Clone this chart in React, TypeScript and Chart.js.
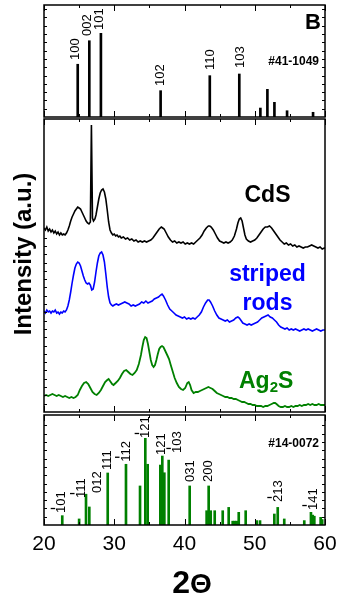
import React, { useEffect, useRef } from "react";
import { Chart, registerables } from "chart.js";

Chart.register(...registerables);

const FONT = "'Liberation Sans', Arial, Helvetica, sans-serif";
const X_MIN = 20;
const X_MAX = 60;
const xTickValues = [20, 30, 40, 50, 60];

// ---- Reference pattern #41-1049 (CdS) ----
const cdsRefAngles = [24.8, 26.45, 28.1, 36.6, 43.6, 47.8, 50.8, 51.8, 52.8, 54.6, 58.3];
const cdsRefIntensity = [47.1, 68.1, 74.7, 23.5, 36.9, 38.4, 8.0, 24.7, 13.1, 5.6, 4.2];
const cdsRefLabels = ["100", "002", "101", "102", "110", "103"];
const cdsRefLabelAngles = [24.53, 26.19, 27.9, 36.51, 43.63, 47.9];
const cdsRefLabelLevels = [50.9, 72.3, 77.7, 27.7, 42.0, 43.75];

// ---- Reference pattern #14-0072 (Ag2S) ----
const ag2sRefAngles = [
  22.6, 25.0, 25.98, 26.45, 29.07, 31.67, 33.67, 34.42, 34.76, 36.56, 36.84, 37.13, 37.75,
  40.74, 43.15, 43.44, 43.73, 44.3, 45.44, 46.29, 46.86, 47.15, 47.43, 47.72, 48.71, 50.28,
  50.75, 52.79, 53.27, 54.2, 57.05, 58.0, 58.25, 58.48, 59.38, 59.6,
];
const ag2sRefIntensity = [
  8.5, 5.5, 28, 16.4, 47.3, 55.2, 35.5, 78.8, 55.2, 54.5, 62.7, 47.5, 59,
  35.5, 13, 35.5, 13, 13, 13, 16, 3.5, 3.5, 3.5, 11.5, 13, 4,
  4, 10, 16, 5.5, 4, 11.5, 9, 8, 7, 5,
];
const ag2sRefLabels = ["101", "111", "012", "111", "112", "121", "121", "103", "031", "200", "213", "141"];
const ag2sRefLabelBar = [true, true, false, false, true, true, false, true, false, false, true, true];
const ag2sRefLabelAngles = [22.52, 25.27, 27.64, 29.0, 31.67, 34.47, 36.65, 38.98, 40.88, 43.39, 53.35, 58.33];
const ag2sRefLabelLevels = [10.9, 24.5, 29.1, 50, 57.5, 79.1, 63.6, 65.5, 39.1, 39.1, 20.9, 13.6];

// ---- Measured XRD scans (2θ, intensity in a.u.) ----
const cdsScan: [number, number][] = [
  [20.0, 184], [20.2, 182], [20.4, 185], [20.6, 181], [20.8, 183], [21.0, 180], [21.2, 182], [21.4, 179],
  [21.6, 181], [21.8, 178], [22.0, 180], [22.2, 177], [22.4, 179], [22.6, 177], [22.8, 178], [23.0, 177],
  [23.2, 179], [23.4, 182], [23.6, 186], [23.8, 191], [24.0, 195], [24.2, 198], [24.4, 201], [24.6, 203],
  [24.8, 205], [25.0, 204], [25.2, 203], [25.4, 200], [25.6, 197], [25.8, 194], [26.0, 191], [26.2, 189],
  [26.4, 188], [26.6, 190], [26.75, 287], [26.9, 194], [27.05, 191], [27.25, 193],
  [27.4, 197], [27.6, 205], [27.8, 213], [28.0, 219], [28.2, 222], [28.4, 223], [28.6, 220], [28.8, 213],
  [29.0, 202], [29.2, 190], [29.4, 182], [29.6, 179], [29.8, 177], [30.0, 178], [30.2, 176], [30.4, 177],
  [30.6, 175], [30.8, 176], [31.0, 174], [31.3, 175], [31.6, 173], [31.9, 174], [32.2, 172], [32.5, 173],
  [32.8, 171], [33.1, 172], [33.4, 170], [33.7, 171], [34.0, 170], [34.3, 171], [34.6, 170], [34.9, 171],
  [35.2, 172], [35.5, 174], [35.8, 177], [36.1, 180], [36.4, 183], [36.7, 185], [36.9, 184], [37.1, 183],
  [37.4, 179], [37.7, 175], [38.0, 172], [38.3, 170], [38.6, 171], [38.9, 169], [39.2, 170], [39.5, 169],
  [39.8, 170], [40.1, 168], [40.4, 169], [40.7, 168], [41.0, 169], [41.3, 168], [41.6, 170], [41.9, 172],
  [42.2, 174], [42.5, 177], [42.8, 181], [43.1, 184], [43.4, 186], [43.6, 186], [43.8, 185], [44.1, 182],
  [44.4, 178], [44.7, 174], [45.0, 171], [45.3, 170], [45.6, 169], [45.9, 170], [46.2, 169], [46.5, 170],
  [46.8, 172], [47.1, 176], [47.4, 183], [47.6, 189], [47.8, 193], [48.0, 194], [48.2, 191], [48.4, 184],
  [48.6, 177], [48.8, 173], [49.1, 171], [49.4, 170], [49.7, 171], [50.0, 172], [50.3, 174], [50.6, 177],
  [50.9, 180], [51.2, 183], [51.5, 185], [51.8, 185], [52.1, 186], [52.4, 184], [52.7, 181], [53.0, 178],
  [53.3, 175], [53.6, 172], [53.9, 170], [54.2, 168], [54.5, 169], [54.8, 167], [55.1, 168], [55.4, 166],
  [55.7, 167], [56.0, 165], [56.3, 166], [56.6, 165], [56.9, 164], [57.2, 165], [57.5, 165], [57.8, 166],
  [58.1, 167], [58.4, 166], [58.7, 165], [59.0, 164], [59.3, 165], [59.6, 163], [59.9, 164], [60.0, 164],
];

const rodsScan: [number, number][] = [
  [20.0, 101], [20.2, 99], [20.4, 102], [20.6, 100], [20.8, 101], [21.0, 99], [21.2, 101], [21.4, 100],
  [21.6, 102], [21.8, 99], [22.0, 100], [22.2, 98], [22.4, 100], [22.6, 99], [22.8, 101], [23.0, 100],
  [23.2, 102], [23.4, 106], [23.6, 112], [23.8, 120], [24.0, 129], [24.2, 137], [24.4, 144], [24.6, 148],
  [24.8, 150], [25.0, 149], [25.2, 146], [25.4, 141], [25.6, 136], [25.8, 132], [26.0, 129], [26.2, 128],
  [26.4, 129], [26.6, 127], [26.8, 122], [27.0, 123], [27.2, 130], [27.4, 140], [27.6, 149], [27.8, 156],
  [28.0, 159], [28.2, 160], [28.4, 157], [28.6, 150], [28.8, 138], [29.0, 125], [29.2, 115], [29.4, 109],
  [29.6, 107], [29.8, 106], [30.0, 107], [30.3, 108], [30.6, 107], [30.9, 108], [31.2, 109], [31.5, 110],
  [31.8, 109], [32.1, 108], [32.4, 106], [32.7, 107], [33.0, 106], [33.3, 107], [33.6, 108], [33.9, 110],
  [34.2, 109], [34.5, 111], [34.8, 109], [35.1, 110], [35.4, 111], [35.7, 113], [36.0, 114], [36.3, 115],
  [36.6, 117], [36.8, 118], [37.0, 116], [37.3, 112], [37.6, 107], [37.9, 103], [38.2, 101], [38.5, 99],
  [38.8, 97], [39.1, 96], [39.4, 95], [39.7, 94], [40.0, 95], [40.3, 93], [40.6, 94], [40.9, 93],
  [41.2, 94], [41.5, 93], [41.8, 95], [42.1, 97], [42.4, 100], [42.7, 105], [43.0, 109], [43.3, 112],
  [43.5, 112], [43.7, 110], [44.0, 106], [44.3, 101], [44.6, 97], [44.9, 94], [45.2, 93], [45.5, 92],
  [45.8, 91], [46.1, 92], [46.4, 90], [46.7, 91], [47.0, 92], [47.3, 94], [47.6, 95], [47.8, 94],
  [48.0, 92], [48.3, 89], [48.6, 88], [48.9, 87], [49.2, 88], [49.5, 87], [49.8, 88], [50.1, 89],
  [50.4, 90], [50.7, 92], [51.0, 94], [51.3, 95], [51.6, 96], [51.9, 97], [52.2, 95], [52.5, 94],
  [52.8, 92], [53.1, 90], [53.4, 87], [53.7, 85], [54.0, 84], [54.3, 83], [54.6, 84], [54.9, 82],
  [55.2, 83], [55.5, 82], [55.8, 83], [56.1, 82], [56.4, 81], [56.7, 82], [57.0, 83], [57.3, 82],
  [57.6, 83], [57.9, 82], [58.2, 81], [58.5, 82], [58.8, 83], [59.1, 82], [59.4, 81], [59.7, 82], [60.0, 82],
];

const ag2sScan: [number, number][] = [
  [20.0, 16], [20.3, 17], [20.6, 16], [20.9, 17], [21.2, 18], [21.5, 17], [21.8, 16], [22.1, 17],
  [22.4, 16], [22.7, 15], [23.0, 16], [23.3, 15], [23.6, 14], [23.9, 15], [24.2, 14], [24.5, 15],
  [24.8, 17], [25.1, 22], [25.4, 26], [25.7, 29], [26.0, 30], [26.3, 28], [26.6, 24], [26.9, 20],
  [27.2, 18], [27.5, 17], [27.8, 19], [28.1, 22], [28.4, 26], [28.7, 30], [29.0, 32], [29.2, 33],
  [29.4, 31], [29.7, 28], [29.9, 27], [30.2, 29], [30.5, 31], [30.8, 34], [31.1, 38], [31.4, 41],
  [31.7, 42], [32.0, 40], [32.3, 38], [32.6, 37], [32.9, 39], [33.2, 42], [33.5, 48], [33.8, 57],
  [34.0, 65], [34.2, 72], [34.4, 75], [34.6, 74], [34.8, 68], [35.0, 60], [35.2, 52], [35.4, 47],
  [35.6, 45], [35.8, 47], [36.0, 52], [36.2, 58], [36.4, 63], [36.6, 65], [36.8, 66], [37.0, 65],
  [37.2, 62], [37.4, 59], [37.6, 56], [37.8, 53], [38.0, 48], [38.3, 41], [38.6, 34], [38.9, 29],
  [39.2, 25], [39.5, 23], [39.8, 22], [40.1, 24], [40.4, 29], [40.6, 30], [40.8, 27], [41.0, 22],
  [41.3, 19], [41.6, 20], [41.9, 20], [42.2, 21], [42.5, 22], [42.8, 23], [43.1, 24], [43.4, 25],
  [43.7, 24], [44.0, 23], [44.3, 21], [44.6, 19], [44.9, 18], [45.2, 17], [45.5, 16], [45.8, 15],
  [46.1, 15], [46.4, 14], [46.7, 14], [47.0, 13], [47.3, 13], [47.6, 12], [47.9, 11], [48.2, 10],
  [48.5, 10], [48.8, 9], [49.1, 8], [49.4, 8], [49.7, 7], [50.0, 7], [50.3, 6], [50.6, 6],
  [50.9, 6], [51.2, 5], [51.5, 6], [51.8, 6], [52.1, 7], [52.4, 8], [52.7, 9], [52.9, 9],
  [53.1, 8], [53.4, 6], [53.7, 5], [54.0, 5], [54.3, 6], [54.6, 5], [54.9, 5], [55.2, 6],
  [55.5, 5], [55.8, 6], [56.1, 6], [56.4, 7], [56.7, 6], [57.0, 7], [57.3, 7], [57.6, 8],
  [57.9, 7], [58.2, 8], [58.5, 7], [58.8, 7], [59.1, 8], [59.4, 7], [59.7, 7], [60.0, 7],
];

type FrameOpts = { rightTicks: boolean; leftTickTop: number };

const framePlugin = {
  id: "frame",
  afterDatasetsDraw(chart: any, _args: any, opts: FrameOpts) {
    const { ctx, chartArea: a } = chart;
    const xs = chart.scales.x;
    ctx.save();
    ctx.strokeStyle = "#000";
    ctx.lineWidth = 1;
    for (let v = X_MIN; v <= X_MAX; v += 5) {
      const px = Math.round(xs.getPixelForValue(v)) + 0.5;
      const len = v % 10 === 0 ? 6 : 3;
      ctx.beginPath();
      ctx.moveTo(px, a.bottom);
      ctx.lineTo(px, a.bottom - len);
      ctx.moveTo(px, a.top);
      ctx.lineTo(px, a.top + len);
      ctx.stroke();
    }
    const step = 8.3;
    for (let y = a.bottom - step; y > a.top + 3; y -= step) {
      const py = Math.round(y) + 0.5;
      ctx.beginPath();
      if (py >= opts.leftTickTop) {
        ctx.moveTo(a.left, py);
        ctx.lineTo(a.left + 3, py);
      }
      if (opts.rightTicks) {
        ctx.moveTo(a.right, py);
        ctx.lineTo(a.right - 3, py);
      }
      ctx.stroke();
    }
    ctx.lineWidth = 1.5;
    ctx.strokeRect(a.left, a.top, a.right - a.left, a.bottom - a.top);
    ctx.restore();
  },
};

function rotLabel(ctx: CanvasRenderingContext2D, text: string, cx: number, yStart: number, bar: boolean) {
  ctx.save();
  ctx.fillStyle = "#000";
  ctx.font = `13px ${FONT}`;
  ctx.translate(cx, yStart);
  ctx.rotate(-Math.PI / 2);
  ctx.textAlign = "left";
  ctx.textBaseline = "middle";
  ctx.fillText(text, 0, 0);
  ctx.restore();
  if (bar) {
    ctx.save();
    ctx.strokeStyle = "#000";
    ctx.lineWidth = 1.3;
    ctx.beginPath();
    ctx.moveTo(cx - 11, yStart - 4.5);
    ctx.lineTo(cx - 6.5, yStart - 4.5);
    ctx.stroke();
    ctx.restore();
  }
}

function makeStickChart(
  canvas: HTMLCanvasElement,
  angles: number[],
  values: number[],
  color: string,
  padding: any,
  draw: (chart: any) => void
) {
  return new Chart(canvas, {
    type: "bar",
    data: {
      datasets: [
        {
          data: angles.map((a, i) => ({ x: a, y: values[i] })),
          backgroundColor: color,
          borderWidth: 0,
          barThickness: 2,
        } as any,
      ],
    },
    options: {
      responsive: false,
      animation: false,
      events: [],
      layout: { padding },
      scales: {
        x: { type: "linear", min: X_MIN, max: X_MAX, offset: false, display: false },
        y: { min: 0, max: 100, display: false },
      },
      plugins: {
        legend: { display: false },
        tooltip: { enabled: false },
        frame: { rightTicks: true, leftTickTop: 0 },
      } as any,
    },
    plugins: [framePlugin, { id: "texts", afterDraw: draw }],
  });
}

export default function App() {
  const topRef = useRef<HTMLCanvasElement>(null);
  const midRef = useRef<HTMLCanvasElement>(null);
  const botRef = useRef<HTMLCanvasElement>(null);

  useEffect(() => {
    const charts: Chart[] = [];

    charts.push(
      makeStickChart(
        topRef.current!,
        cdsRefAngles,
        cdsRefIntensity,
        "#000",
        { left: 44, right: 16, top: 5, bottom: 3 },
        (chart: any) => {
          const { ctx } = chart;
          const xs = chart.scales.x;
          const ys = chart.scales.y;
          cdsRefLabels.forEach((t, i) => {
            rotLabel(ctx, t, xs.getPixelForValue(cdsRefLabelAngles[i]), ys.getPixelForValue(cdsRefLabelLevels[i]), false);
          });
          ctx.save();
          ctx.fillStyle = "#000";
          ctx.textAlign = "right";
          ctx.textBaseline = "alphabetic";
          ctx.font = `bold 22px ${FONT}`;
          ctx.fillText("B", 321, 29);
          ctx.font = `bold 12px ${FONT}`;
          ctx.fillText("#41-1049", 319, 65);
          ctx.restore();
        }
      )
    );

    charts.push(
      new Chart(midRef.current!, {
        type: "line",
        data: {
          datasets: [
            { data: cdsScan.map(([x, y]) => ({ x, y })), borderColor: "#000", borderWidth: 1.6, pointRadius: 0, tension: 0 },
            { data: rodsScan.map(([x, y]) => ({ x, y })), borderColor: "#0000ff", borderWidth: 1.6, pointRadius: 0, tension: 0 },
            { data: ag2sScan.map(([x, y]) => ({ x, y })), borderColor: "#008000", borderWidth: 1.8, pointRadius: 0, tension: 0 },
          ],
        },
        options: {
          responsive: false,
          animation: false,
          events: [],
          layout: { padding: { left: 44, right: 16, top: 2, bottom: 3 } },
          scales: {
            x: { type: "linear", min: X_MIN, max: X_MAX, offset: false, display: false },
            y: { min: 0, max: 293, display: false },
          },
          plugins: {
            legend: { display: false },
            tooltip: { enabled: false },
            frame: { rightTicks: false, leftTickTop: 113 },
          } as any,
        },
        plugins: [
          framePlugin,
          {
            id: "texts",
            afterDraw(chart: any) {
              const { ctx } = chart;
              ctx.save();
              ctx.textBaseline = "alphabetic";
              ctx.textAlign = "center";
              ctx.font = `bold 23px ${FONT}`;
              ctx.fillStyle = "#000";
              ctx.fillText("CdS", 267.5, 202 - 117);
              ctx.fillStyle = "#0000ff";
              ctx.fillText("striped", 267.5, 281 - 117);
              ctx.fillText("rods", 267.5, 310 - 117);
              ctx.fillStyle = "#008000";
              ctx.textAlign = "left";
              const base = 388 - 117;
              let x = 239;
              ctx.fillText("Ag", x, base);
              x += ctx.measureText("Ag").width;
              ctx.font = `bold 15px ${FONT}`;
              ctx.fillText("2", x, base + 4);
              x += ctx.measureText("2").width;
              ctx.font = `bold 23px ${FONT}`;
              ctx.fillText("S", x, base);
              ctx.fillStyle = "#000";
              ctx.font = `bold 24px ${FONT}`;
              ctx.translate(31, 254 - 117);
              ctx.rotate(-Math.PI / 2);
              ctx.textAlign = "center";
              ctx.fillText("Intensity (a.u.)", 0, 0);
              ctx.restore();
            },
          },
        ],
      })
    );

    charts.push(
      makeStickChart(
        botRef.current!,
        ag2sRefAngles,
        ag2sRefIntensity,
        "#008000",
        { left: 44, right: 16, top: 2, bottom: 81 },
        (chart: any) => {
          const { ctx, chartArea } = chart;
          const xs = chart.scales.x;
          const ys = chart.scales.y;
          ag2sRefLabels.forEach((t, i) => {
            rotLabel(ctx, t, xs.getPixelForValue(ag2sRefLabelAngles[i]), ys.getPixelForValue(ag2sRefLabelLevels[i]), ag2sRefLabelBar[i]);
          });
          ctx.save();
          ctx.fillStyle = "#000";
          ctx.textAlign = "right";
          ctx.textBaseline = "alphabetic";
          ctx.font = `bold 12px ${FONT}`;
          ctx.fillText("#14-0072", 319, 447 - 413);
          ctx.textAlign = "center";
          ctx.font = `21px ${FONT}`;
          xTickValues.forEach((v) => {
            ctx.fillText(String(v), xs.getPixelForValue(v), chartArea.bottom + 25);
          });
          ctx.textAlign = "left";
          ctx.font = `bold 32px ${FONT}`;
          const w2 = ctx.measureText("2").width;
          ctx.font = `bold 28px ${FONT}`;
          const wt = ctx.measureText("Θ").width;
          const start = 192 - (w2 + wt) / 2;
          ctx.font = `bold 32px ${FONT}`;
          ctx.fillText("2", start, 593 - 413);
          ctx.font = `bold 28px ${FONT}`;
          ctx.fillText("Θ", start + w2, 593 - 413);
          ctx.restore();
        }
      )
    );

    return () => charts.forEach((c) => c.destroy());
  }, []);

  const cs: React.CSSProperties = { position: "absolute", left: 0, display: "block" };
  return (
    <div style={{ position: "absolute", left: 0, top: 0, width: 341, height: 606, background: "#fff" }}>
      <canvas ref={topRef} width={341} height={120} style={{ ...cs, top: 0 }} />
      <canvas ref={midRef} width={341} height={298} style={{ ...cs, top: 117 }} />
      <canvas ref={botRef} width={341} height={193} style={{ ...cs, top: 413 }} />
    </div>
  );
}
